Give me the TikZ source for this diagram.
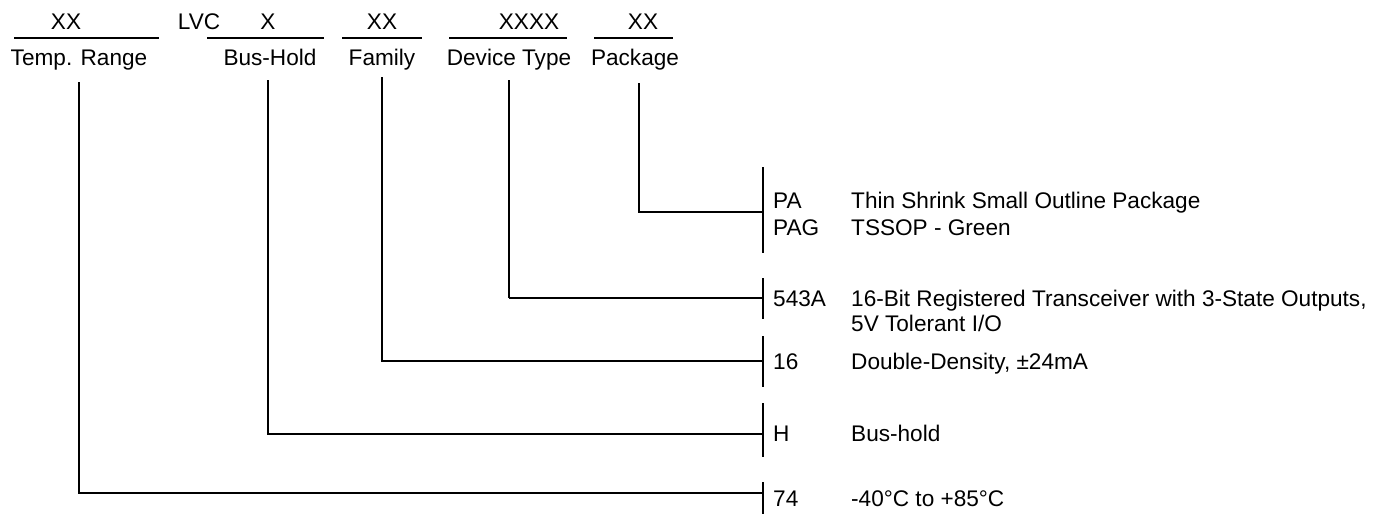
\documentclass[tikz,border=0pt]{standalone}
\usepackage{fontspec}
\setmainfont{Liberation Sans}
\begin{document}
\begin{tikzpicture}[x=1pt,y=-1pt,
  lbl/.style={inner sep=0pt, anchor=base, font=\fontsize{22.6}{27}\selectfont},
  code/.style={lbl, anchor=base west},
  ln/.style={line width=1.1pt},
  thk/.style={line width=2pt}]
\useasboundingbox (0,0) rectangle (1385,514);
% top row
\node[lbl] (tTemp) at (66,29) {XX};
\node[lbl] (tLVC) at (199,29) {LVC};
\node[lbl] (tBus) at (268,29) {X};
\node[lbl] (tFam) at (382,29) {XX};
\node[lbl] (tDev) at (529,29) {XXXX};
\node[lbl] (tPkg) at (643,29) {XX};
% underlines
\draw[ln] (14,38) -- (159,38);
\draw[ln] (207,38) -- (324,38);
\draw[ln] (342,38) -- (422,38);
\draw[ln] (449,38) -- (567,38);
\draw[ln] (594,38) -- (673,38);
% bottom labels
\node[lbl] (bTemp) at (79,65) {Temp. Range};
\node[lbl] (bBus) at (270,65) {Bus-Hold};
\node[lbl] (bFam) at (382,65) {Family};
\node[lbl] (bDev) at (509,65) {Device Type};
\node[lbl] (bPkg) at (635,65) {Package};
% connector start points
\coordinate (sTemp) at (79,82);
\coordinate (sBus) at (268,80);
\coordinate (sFam) at (382,77);
\coordinate (sDev) at (509,80);
\coordinate (sPkg) at (639,83);
% bar joints
\coordinate (jPkg) at (763,212);
\coordinate (jDev) at (763,298);
\coordinate (jFam) at (763,361);
\coordinate (jBus) at (763,434);
\coordinate (jTemp) at (763,493);
% bars
\coordinate (pTop) at (763,167); \coordinate (pBot) at (763,253);
\coordinate (dTop) at (763,278); \coordinate (dBot) at (763,319);
\coordinate (fTop) at (763,336); \coordinate (fBot) at (763,387);
\coordinate (hTop) at (763,403); \coordinate (hBot) at (763,457);
\coordinate (tTop) at (763,482); \coordinate (tBot) at (763,514);
\draw[ln] (pTop) -- (pBot);
\draw[ln] (dTop) -- (dBot);
\draw[thk] (fTop) -- (fBot);
\draw[ln] (hTop) -- (hBot);
\draw[ln] (tTop) -- (tBot);
% connectors
\draw[ln] (sPkg) |- (jPkg);
\draw[line width=1.5pt] (sDev) -- (sDev |- jDev);
\draw[ln] (sDev |- jDev) -- (jDev);
\draw[thk] (sFam) |- (jFam);
\draw[ln] (sBus) |- (jBus);
\draw[ln] (sTemp) |- (jTemp);
% right-hand codes and descriptions
\node[code] (cPA) at (773,208) {PA};
\node[code] (dPA) at (851,208) {Thin Shrink Small Outline Package};
\node[code] (cPAG) at (773,235) {PAG};
\node[code] (dPAG) at (851,235) {TSSOP - Green};
\node[code] (cDev) at (773,306) {543A};
\node[code] (dDev) at (851,306) {16-Bit Registered Transceiver with 3-State Outputs,};
\node[code] (dDev2) at (851,331) {5V Tolerant I/O};
\node[code] (cFam) at (773,369) {16};
\node[code] (dFam) at (851,369) {Double-Density, ±24mA};
\node[code] (cBus) at (773,441) {H};
\node[code] (dBus) at (851,441) {Bus-hold};
\node[code] (cTemp) at (773,506) {74};
\node[code] (dTemp) at (851,506) {-40°C to +85°C};
\end{tikzpicture}
\end{document}
